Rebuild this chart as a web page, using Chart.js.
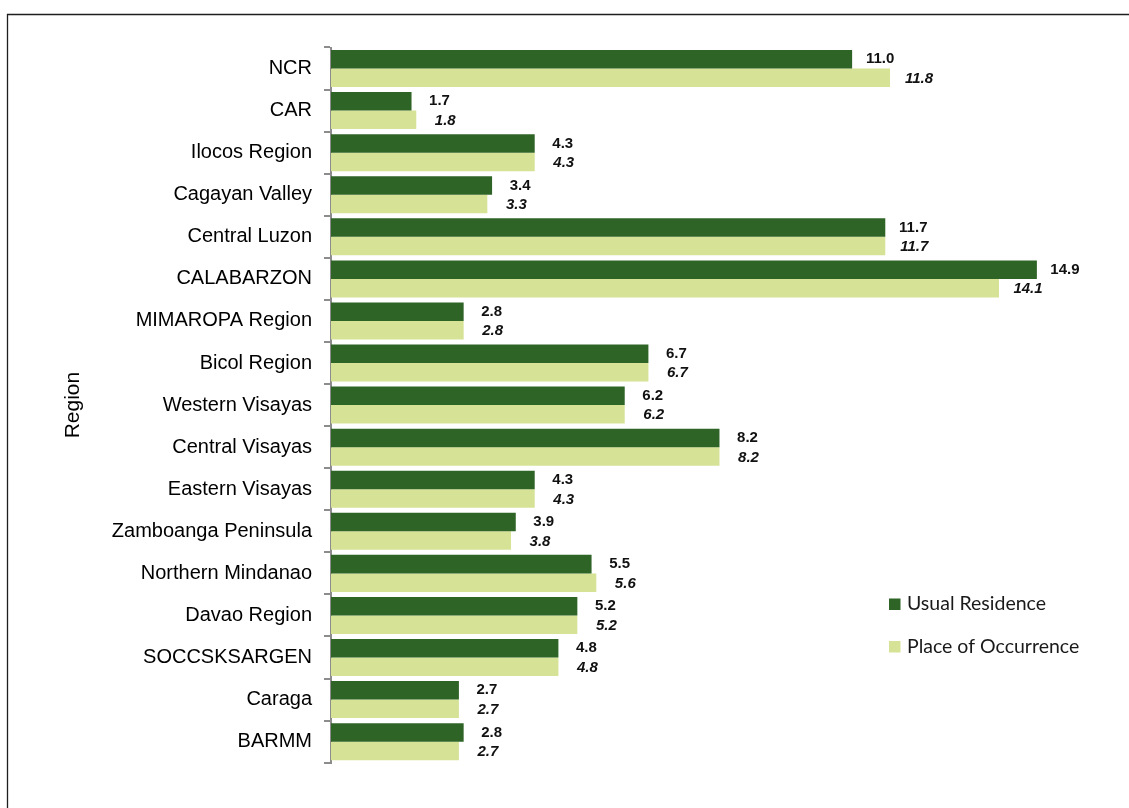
<!DOCTYPE html>
<html>
<head>
<meta charset="utf-8">
<script src="https://cdn.jsdelivr.net/npm/chart.js@4"></script>
<style>
  body { margin: 0; background: #fff; }
  #wrap { width: 1129px; height: 808px; }
</style>
</head>
<body>
<div id="wrap"><canvas id="regionChart" width="1129" height="808"></canvas></div>
<script>
const regions = [
  'NCR', 'CAR', 'Ilocos Region', 'Cagayan Valley', 'Central Luzon', 'CALABARZON',
  'MIMAROPA Region', 'Bicol Region', 'Western Visayas', 'Central Visayas',
  'Eastern Visayas', 'Zamboanga Peninsula', 'Northern Mindanao', 'Davao Region',
  'SOCCSKSARGEN', 'Caraga', 'BARMM'
];
const usualResidence = [11.0, 1.7, 4.3, 3.4, 11.7, 14.9, 2.8, 6.7, 6.2, 8.2, 4.3, 3.9, 5.5, 5.2, 4.8, 2.7, 2.8];
const placeOfOccurrence = [11.8, 1.8, 4.3, 3.3, 11.7, 14.1, 2.8, 6.7, 6.2, 8.2, 4.3, 3.8, 5.6, 5.2, 4.8, 2.7, 2.7];
const seriesNames = ['Usual Residence', 'Place of Occurrence'];
const axisTitle = 'Region';

const darkGreen = '#2f6427';
const paleGreen = '#d6e295';
const sans = '"Liberation Sans", Arial, sans-serif';

// thin frame along the top and left edge
const framePlugin = {
  id: 'frame',
  beforeDraw(chart) {
    const { ctx, width, height } = chart;
    ctx.save();
    ctx.strokeStyle = '#1e1e1e';
    ctx.lineWidth = 1.3;
    ctx.beginPath();
    ctx.moveTo(7.5, height);
    ctx.lineTo(7.5, 14.5);
    ctx.lineTo(width, 14.5);
    ctx.stroke();
    ctx.restore();
  }
};

// numbers past the end of each bar; second series in italics
const valueLabels = {
  id: 'valueLabels',
  afterDatasetsDraw(chart) {
    const { ctx } = chart;
    ctx.save();
    ctx.fillStyle = '#111';
    ctx.textAlign = 'center';
    ctx.textBaseline = 'middle';
    chart.data.datasets.forEach((ds, di) => {
      ctx.font = (di === 1 ? 'italic bold ' : 'bold ') + '15px ' + sans;
      chart.getDatasetMeta(di).data.forEach((bar, i) => {
        ctx.fillText(ds.data[i].toFixed(1), bar.x + (di === 1 ? 29 : 28), bar.y + (di === 1 ? 1 : 0));
      });
    });
    ctx.restore();
  }
};

// legend inside the plot, lower right
const sideLegend = {
  id: 'sideLegend',
  afterDraw(chart) {
    const { ctx } = chart;
    ctx.save();
    ctx.font = '19.5px Lato, "Open Sans", sans-serif';
    ctx.textBaseline = 'middle';
    chart.data.datasets.forEach((ds, di) => {
      const y = 604 + di * 42.5;
      ctx.fillStyle = ds.backgroundColor;
      ctx.fillRect(889, y - 5.5, 11.5, 11.5);
      ctx.fillStyle = '#1a1a1a';
      ctx.fillText(ds.label, 907, y);
    });
    ctx.restore();
  }
};

new Chart(document.getElementById('regionChart'), {
  type: 'bar',
  data: {
    labels: regions,
    datasets: [
      {
        label: seriesNames[0],
        data: usualResidence,
        backgroundColor: darkGreen,
        categoryPercentage: 0.88,
        barPercentage: 1.0
      },
      {
        label: seriesNames[1],
        data: placeOfOccurrence,
        backgroundColor: paleGreen,
        categoryPercentage: 0.88,
        barPercentage: 1.0
      }
    ]
  },
  options: {
    indexAxis: 'y',
    responsive: false,
    animation: false,
    layout: { padding: { left: 0, top: 47.5, right: 40, bottom: 45.3 } },
    plugins: {
      legend: { display: false },
      tooltip: { enabled: false }
    },
    scales: {
      x: { display: false, min: 0, max: 16 },
      y: {
        afterFit(scale) { scale.width = 331; },
        border: { color: '#8c8c8c', width: 2 },
        grid: { drawOnChartArea: false, offset: true, tickLength: 7, color: '#8c8c8c', lineWidth: 2 },
        ticks: { color: '#000', padding: 12, font: { family: sans, size: 20 } },
        title: {
          display: true,
          text: axisTitle,
          color: '#000',
          font: { family: sans, size: 21 },
          padding: { top: 61 }
        }
      }
    }
  },
  plugins: [framePlugin, valueLabels, sideLegend]
});
</script>
</body>
</html>
